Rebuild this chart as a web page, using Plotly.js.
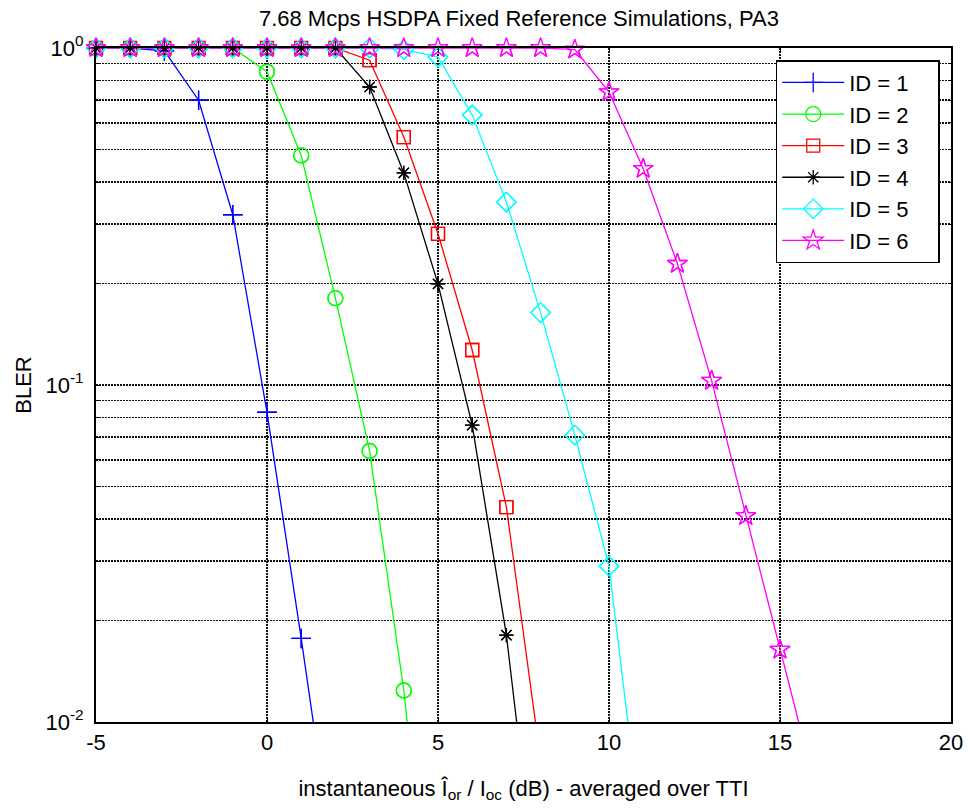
<!DOCTYPE html>
<html><head><meta charset="utf-8">
<script src="https://cdn.plot.ly/plotly-3.0.1.min.js"></script>
<style>body{margin:0;background:#fff}#chart{width:970px;height:811px}</style>
</head><body><div id="chart"></div>
<script>
const xs1 = [-5,-4,-3,-2,-1,0,1,2];
const bler1 = [1,1,0.98,0.70,0.32,0.083,0.0177,0.0035];
const xs2 = [-5,-4,-3,-2,-1,0,1,2,3,4,5];
const bler2 = [1,1,1,1,1,0.85,0.48,0.181,0.0637,0.0124,0.0014];
const xs3 = [-5,-4,-3,-2,-1,0,1,2,3,4,5,6,7,8];
const bler3 = [1,1,1,1,1,1,1,1,0.92,0.544,0.281,0.127,0.0434,0.0077];
const xs4 = [-5,-4,-3,-2,-1,0,1,2,3,4,5,6,7,8];
const bler4 = [1,1,1,1,1,1,1,1,0.766,0.426,0.1995,0.076,0.0181,0.0025];
const xs5 = [-5,-4,-3,-2,-1,0,1,2,3,4,5,6,7,8,9,10,11];
const bler5 = [1,1,1,1,1,1,1,1,1,0.99,0.94,0.633,0.349,0.164,0.071,0.029,0.0042];
const xs6 = [-5,-4,-3,-2,-1,0,1,2,3,4,5,6,7,8,9,10,11,12,13,14,15,16];
const bler6 = [1,1,1,1,1,1,1,1,1,1,1,1,1,1,0.99,0.74,0.438,0.229,0.103,0.0409,0.0164,0.0066];
const names = ['ID = 1','ID = 2','ID = 3','ID = 4','ID = 5','ID = 6'];
const xTicks = [-5,0,5,10,15,20];
const yTicks = [1,0.1,0.01];
const yTickText = ['10<sup>0</sup>','10<sup>-1</sup>','10<sup>-2</sup>'];

const series = [
  {x: xs1, y: bler1, color: '#0000ff', symbol: 'cross-thin-open', size: 14},
  {x: xs2, y: bler2, color: '#00ff00', symbol: 'circle-open', size: 15},
  {x: xs3, y: bler3, color: '#ff0000', symbol: 'square-open', size: 13},
  {x: xs4, y: bler4, color: '#000000', symbol: 'asterisk-open', size: 12},
  {x: xs5, y: bler5, color: '#00ffff', symbol: 'diamond-open', size: 15},
  {x: xs6, y: bler6, color: '#ff00ff', symbol: 'star-open', size: 15}
];
const pad = '\u00a0\u00a0\u00a0\u00a0';
const traces = [];
series.forEach((s, i) => {
  traces.push({
    x: s.x, y: s.y, name: names[i] + pad, type: 'scatter', mode: 'lines+markers',
    line: {color: s.color, width: 1.3},
    marker: {symbol: s.symbol, size: s.size, color: s.color, line: {color: s.color, width: 1.3}},
    cliponaxis: true
  });
});
series.forEach((s, i) => {
  const fx = [], fy = [];
  s.x.forEach((v, k) => { if (s.y[k] >= 0.01) { fx.push(v); fy.push(s.y[k]); } });
  traces.push({
    x: fx, y: fy, type: 'scatter', mode: 'markers', showlegend: false, hoverinfo: 'skip',
    marker: {symbol: s.symbol, size: s.size, color: s.color, line: {color: s.color, width: 1.3}},
    cliponaxis: false
  });
});

const gridStyle = {gridcolor: '#111', griddash: '2px,1px', gridwidth: 1.6};
const layout = {
  width: 970, height: 811,
  margin: {l: 96, r: 19, t: 48, b: 89},
  paper_bgcolor: '#fff', plot_bgcolor: '#fff',
  font: {family: 'Liberation Sans, Arial, sans-serif', color: '#000', size: 22},
  title: {text: '7.68 Mcps HSDPA Fixed Reference Simulations, PA3', font: {size: 22}, x: 0.535, xanchor: 'center', y: 0.978, yanchor: 'middle'},
  showlegend: true,
  legend: {x: 0.795, y: 0.982, xanchor: 'left', yanchor: 'top', bgcolor: '#fff', bordercolor: '#000', borderwidth: 1.5,
           font: {size: 22}, tracegroupgap: 0, itemwidth: 62},
  xaxis: Object.assign({
    range: [-5, 20], tickvals: xTicks, ticktext: xTicks.map(String),
    showgrid: true,
    showline: true, linecolor: '#000', linewidth: 2, mirror: 'ticks',
    ticks: 'inside', ticklen: 5, tickcolor: '#000', zeroline: false,
    tickfont: {size: 22},
    title: {text: 'instantaneous Î<sub>or</sub> / I<sub>oc</sub> (dB) - averaged over TTI', font: {size: 22}, standoff: 26}
  }, gridStyle),
  yaxis: Object.assign({
    type: 'log', range: [-2, 0], tickvals: yTicks, ticktext: yTickText,
    showgrid: true,
    showline: true, linecolor: '#000', linewidth: 2, mirror: 'ticks',
    ticks: 'inside', ticklen: 5, tickcolor: '#000', zeroline: false,
    tickfont: {size: 22}, ticklabelstandoff: 6,
    minor: Object.assign({dtick: 'D1', showgrid: true, ticks: 'inside', ticklen: 3, tickcolor: '#000'}, gridStyle),
    title: {text: 'BLER', font: {size: 22}, standoff: 8}
  }, gridStyle)
};
Plotly.newPlot('chart', traces, layout, {displayModeBar: false, staticPlot: true});
</script></body></html>
